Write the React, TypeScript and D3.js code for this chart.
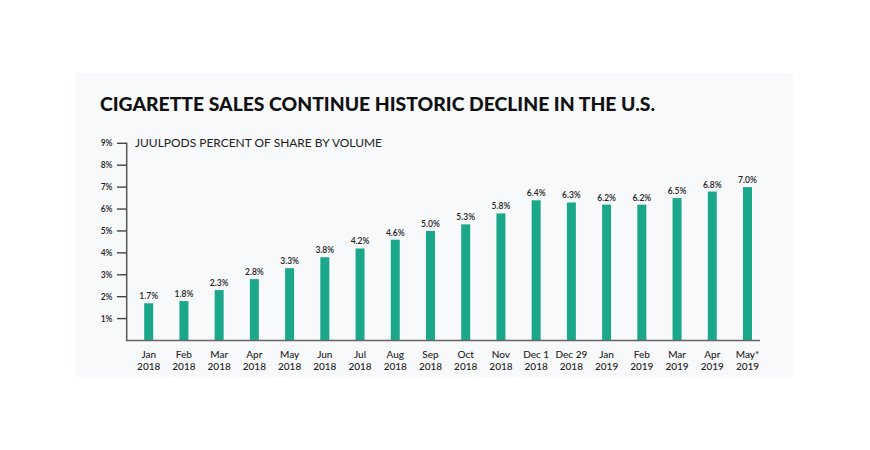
import React from "react";
import * as d3 from "d3";

const monthLabels = ["Jan", "Feb", "Mar", "Apr", "May", "Jun", "Jul", "Aug", "Sep", "Oct", "Nov", "Dec 1", "Dec 29", "Jan", "Feb", "Mar", "Apr", "May*"];
const yearLabels = ["2018", "2018", "2018", "2018", "2018", "2018", "2018", "2018", "2018", "2018", "2018", "2018", "2018", "2019", "2019", "2019", "2019", "2019"];
const shareValues = [1.7, 1.8, 2.3, 2.8, 3.3, 3.8, 4.2, 4.6, 5.0, 5.3, 5.8, 6.4, 6.3, 6.2, 6.2, 6.5, 6.8, 7.0];
const valueLabels = ["1.7%", "1.8%", "2.3%", "2.8%", "3.3%", "3.8%", "4.2%", "4.6%", "5.0%", "5.3%", "5.8%", "6.4%", "6.3%", "6.2%", "6.2%", "6.5%", "6.8%", "7.0%"];
const yTicks = [1, 2, 3, 4, 5, 6, 7, 8, 9];

const title = "CIGARETTE SALES CONTINUE HISTORIC DECLINE IN THE U.S.";
const subtitle = "JUULPODS PERCENT OF SHARE BY VOLUME";

export default function App() {
  const W = 870, H = 450;
  const ids = monthLabels.map((_, i) => String(i));
  const x = d3.scalePoint<string>().domain(ids).range([148.7, 747.5]);
  const y = d3.scaleLinear().domain([0, 9]).range([340.5, 143.3]);
  const axisX = 126.7;
  const barW = 9;
  const font = "'Lato', 'Open Sans', sans-serif";
  return (
    <svg width={W} height={H} style={{ position: "absolute", left: 0, top: 0 }}>
      <rect x={0} y={0} width={W} height={H} fill="#ffffff" />
      <rect x={75} y={73} width={718} height={304} fill="#f8f9fb" />
      <text x={100} y={110.5} fontFamily={font} fontWeight={900} fontSize={19.5} fill="#111" textLength={555} lengthAdjust="spacingAndGlyphs">{title}</text>
      <text x={135} y={147.3} fontFamily={font} fontWeight={400} fontSize={12} fill="#222" textLength={247} lengthAdjust="spacingAndGlyphs">{subtitle}</text>
      {yTicks.map((t) => (
        <g key={t}>
          <line x1={117} x2={axisX} y1={y(t)} y2={y(t)} stroke="#444" strokeWidth={1.4} />
          <text x={112.5} y={y(t) + 3} textAnchor="end" fontFamily={font} fontSize={8.5} fontWeight={600} fill="#222">{t}%</text>
        </g>
      ))}
      {shareValues.map((v, i) => {
        const cx = x(String(i))!;
        return (
          <g key={i}>
            <rect x={cx - barW / 2} y={y(v)} width={barW} height={y(0) - y(v)} fill="#1ba88a" />
            <text x={cx} y={y(v) - 4} textAnchor="middle" fontFamily={font} fontSize={8.5} fontWeight={600} fill="#222">{valueLabels[i]}</text>
            <text x={cx} y={357.5} textAnchor="middle" fontFamily={font} fontSize={10} fontWeight={500} fill="#222">{monthLabels[i]}</text>
            <text x={cx} y={369.5} textAnchor="middle" fontFamily={font} fontSize={10} fontWeight={500} fill="#222">{yearLabels[i]}</text>
          </g>
        );
      })}
      <line x1={axisX} x2={axisX} y1={y(9) - 0.7} y2={y(0) + 0.7} stroke="#555" strokeWidth={1.5} />
      <line x1={axisX} x2={760} y1={y(0)} y2={y(0)} stroke="#666" strokeWidth={1.5} />
    </svg>
  );
}
